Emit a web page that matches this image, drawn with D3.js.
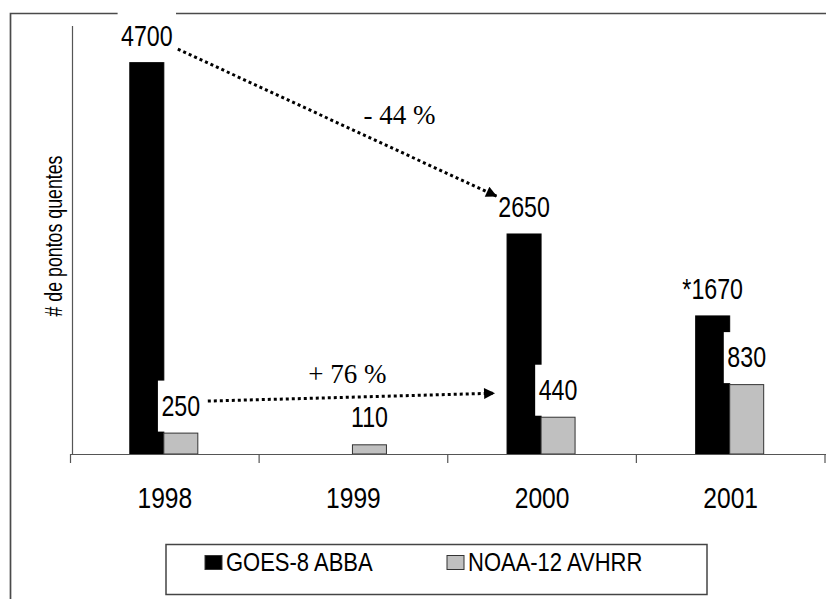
<!DOCTYPE html>
<html><head><meta charset="utf-8">
<script src="https://cdn.jsdelivr.net/npm/d3@7"></script>
<style>html,body{margin:0;padding:0;background:#fff;overflow:hidden}</style>
</head><body>
<script>
const years = ["1998", "1999", "2000", "2001"];
const series = ["GOES-8 ABBA", "NOAA-12 AVHRR"];
const goesValues = [4700, null, 2650, 1670];
const noaaValues = [250, 110, 440, 830];
const goesLabels = ["4700", "", "2650", "*1670"];
const noaaLabels = ["250", "110", "440", "830"];
const seriesColors = ["#000000", "#c0c0c0"];
const yTitle = "# de pontos quentes";
const changeLabels = ["- 44 %", "+ 76 %"];

const W = 826, H = 599;
const svg = d3.select("body").append("svg").attr("width", W).attr("height", H)
  .style("font-family", "'Liberation Sans', Arial, sans-serif");

const x = d3.scaleBand().domain(years).range([70.5, 825]).padding(0);
const xs = d3.scaleBand().domain(series).range([-34, 34]);
const y = d3.scaleLinear().domain([0, 5120]).range([454, 26]);
const center = yr => x(yr) + x.bandwidth() / 2 - 1;
const barMid = (yr, s) => center(yr) + xs(s) + xs.bandwidth() / 2;

// outer frame (top & left)
svg.append("path").attr("d", `M10.5,${H} V13.5 H${W}`).attr("fill", "none")
  .attr("stroke", "#4a4a4a").attr("stroke-width", 1.7);

// y axis line
svg.append("line").attr("x1", 72.5).attr("x2", 72.5).attr("y1", y.range()[1]).attr("y2", y(0))
  .attr("stroke", "#555").attr("stroke-width", 1.2);

// bars
const rows = years.map((yr, i) => ({ yr, vals: [goesValues[i], noaaValues[i]] }));
rows.forEach(r => {
  r.vals.forEach((v, j) => {
    if (v == null) return;
    svg.append("rect")
      .attr("x", center(r.yr) + xs(series[j]))
      .attr("y", y(v))
      .attr("width", xs.bandwidth())
      .attr("height", y(0) - y(v))
      .attr("fill", seriesColors[j])
      .attr("stroke", j === 0 ? "#000" : "#333")
      .attr("stroke-width", 1);
  });
});

// x axis
svg.append("line").attr("x1", 70.5).attr("x2", W).attr("y1", 454.5).attr("y2", 454.5)
  .attr("stroke", "#555").attr("stroke-width", 1.2);
const bounds = years.map(d => x(d)).concat([x(years[years.length - 1]) + x.bandwidth()]);
bounds.forEach(b => {
  svg.append("line").attr("x1", b).attr("x2", b).attr("y1", 454).attr("y2", 463)
    .attr("stroke", "#555").attr("stroke-width", 1.2);
});
years.forEach(yr => {
  svg.append("text").attr("transform", `translate(${x(yr) + x.bandwidth() / 2},508) scale(0.82,1)`)
    .attr("text-anchor", "middle").attr("font-size", 30).text(yr);
});

// label helper
function label(txt, cx, base, box) {
  const g = svg.append("g");
  if (box) {
    const tw = txt.length * 12.6;
    g.append("rect").attr("x", cx - tw / 2 - 4).attr("y", base - 35)
      .attr("width", tw + 8).attr("height", 51).attr("fill", "#fff");
  }
  g.append("text").attr("transform", `translate(${cx},${base}) scale(0.8,1)`)
    .attr("text-anchor", "middle").attr("font-size", 29).text(txt);
}
years.forEach((yr, i) => {
  if (goesValues[i] != null) label(goesLabels[i], barMid(yr, series[0]), y(goesValues[i]) - 15, true);
});
years.forEach((yr, i) => {
  label(noaaLabels[i], barMid(yr, series[1]), y(noaaValues[i]) - 17.5, true);
});

// arrows
const defs = svg.append("defs");
defs.append("marker").attr("id", "ah").attr("viewBox", "0 0 10 10").attr("refX", 10).attr("refY", 5)
  .attr("markerUnits", "userSpaceOnUse").attr("markerWidth", 15).attr("markerHeight", 11)
  .attr("orient", "auto").append("path").attr("d", "M0,0 L10,5 L0,10 Z").attr("fill", "#000");

const a1 = [[barMid("1998", series[0]) + 31, y(goesValues[0]) - 12],
            [barMid("2000", series[0]) - 27, y(goesValues[2]) - 36]];
const a2 = [[barMid("1998", series[1]) + 27, y(noaaValues[0]) - 32],
            [barMid("2000", series[1]) - 63, y(noaaValues[2]) - 24]];
[a1, a2].forEach(a => {
  svg.append("path").attr("d", d3.line()(a)).attr("fill", "none").attr("stroke", "#000")
    .attr("stroke-width", 3).attr("stroke-dasharray", "3,3").attr("marker-end", "url(#ah)");
});
const m1 = [(a1[0][0] + a1[1][0]) / 2, (a1[0][1] + a1[1][1]) / 2];
const m2 = [(a2[0][0] + a2[1][0]) / 2, (a2[0][1] + a2[1][1]) / 2];
svg.append("text").attr("x", m1[0] + 26).attr("y", m1[1] + 1).attr("font-size", 27)
  .style("font-family", "'Liberation Serif', 'Times New Roman', serif").text(changeLabels[0]);
svg.append("text").attr("x", m2[0] - 4).attr("y", m2[1] - 14).attr("font-size", 27)
  .attr("text-anchor", "middle")
  .style("font-family", "'Liberation Serif', 'Times New Roman', serif").text(changeLabels[1]);

// y title
svg.append("text").attr("transform", "translate(62,236) rotate(-90) scale(0.74,1)")
  .attr("text-anchor", "middle").attr("font-size", 24).text(yTitle);

// legend
svg.append("rect").attr("x", 166).attr("y", 544.5).attr("width", 541).attr("height", 50)
  .attr("fill", "#fff").attr("stroke", "#444").attr("stroke-width", 1.5);
const legX = [205, 447];
series.forEach((s, j) => {
  svg.append("rect").attr("x", legX[j]).attr("y", 555.5).attr("width", 17).attr("height", 14)
    .attr("fill", seriesColors[j]).attr("stroke", "#333").attr("stroke-width", 1);
  svg.append("text").attr("transform", `translate(${legX[j] + 21},571) scale(0.88,1)`)
    .attr("font-size", 25).text(s);
});
</script>
</body></html>
